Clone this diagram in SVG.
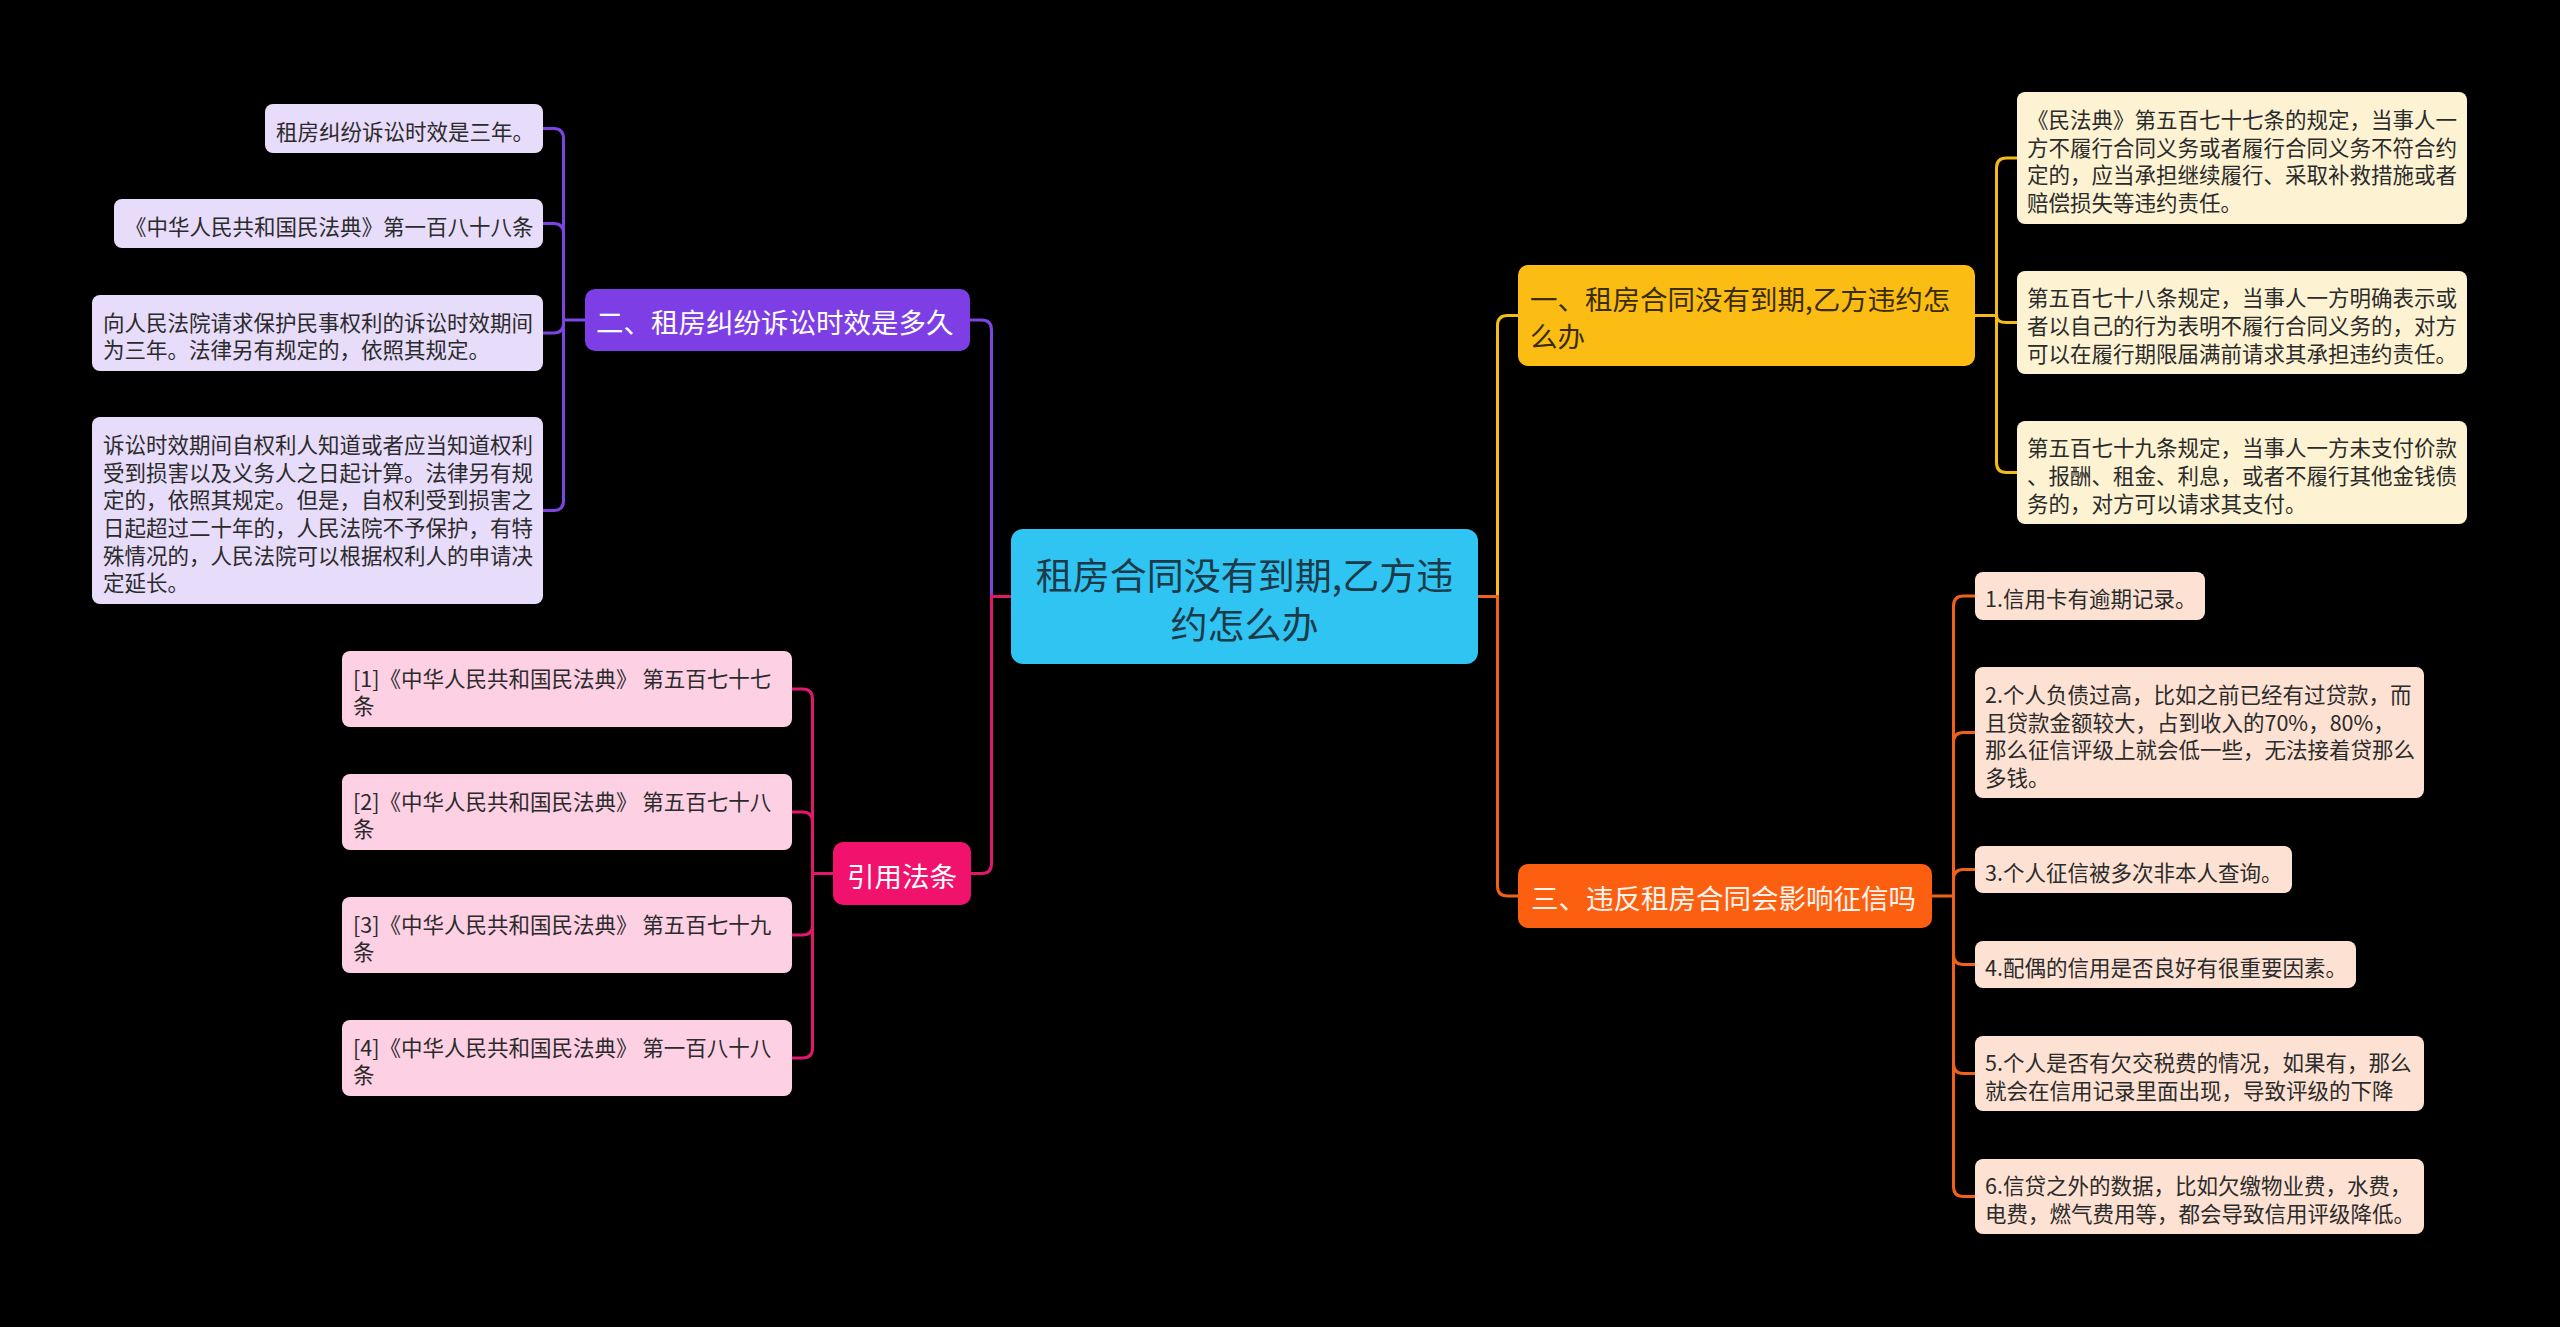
<svg xmlns="http://www.w3.org/2000/svg" width="2560" height="1327" viewBox="0 0 2560 1327">
<style>
text{font-family:"Noto Sans CJK SC","Noto Sans",sans-serif;dominant-baseline:central}
tspan{dominant-baseline:central}
.c{font-size:21.5px;fill:#2b2b2b}
.l1{font-size:27.5px}
.w{fill:#ffffff}
.d{fill:#3a2c05}
.ln{fill:none;stroke-width:3}
.pu{stroke:#7d44e2}
.pk{stroke:#e0186c}
.ye{stroke:#f5bb16}
.or{stroke:#f0621a}
</style>
<rect width="2560" height="1327" fill="#000"/>
<g id="connectors">
<path class="ln pu" d="M1011,596.5 H991.5 V330 Q991.5,320 981.5,320 H970"/>
<path class="ln pk" d="M1011,596.5 H991.5 V863.5 Q991.5,873.5 981.5,873.5 H971"/>
<path class="ln ye" d="M1477,596.5 H1497.5 V325.5 Q1497.5,315.5 1507.5,315.5 H1518"/>
<path class="ln or" d="M1477,596.5 H1497.5 V886 Q1497.5,896 1507.5,896 H1518"/>
<path class="ln pu" d="M585,320 H563.5 V138.5 Q563.5,128.5 553.5,128.5 H543"/>
<path class="ln pu" d="M563.5,320 V233.5 Q563.5,223.5 553.5,223.5 H543"/>
<path class="ln pu" d="M563.5,320 V323 Q563.5,333 553.5,333 H543"/>
<path class="ln pu" d="M563.5,320 V500.5 Q563.5,510.5 553.5,510.5 H543"/>
<path class="ln pk" d="M833,873.5 H812.5 V699 Q812.5,689 802.5,689 H792"/>
<path class="ln pk" d="M812.5,873.5 V822 Q812.5,812 802.5,812 H792"/>
<path class="ln pk" d="M812.5,873.5 V925 Q812.5,935 802.5,935 H792"/>
<path class="ln pk" d="M812.5,873.5 V1048 Q812.5,1058 802.5,1058 H792"/>
<path class="ln ye" d="M1975,315.5 H1996.5 V168 Q1996.5,158 2006.5,158 H2017"/>
<path class="ln ye" d="M1996.5,315.5 V315.5 Q1996.5,322.5 2006.5,322.5 H2017"/>
<path class="ln ye" d="M1996.5,315.5 V462.5 Q1996.5,472.5 2006.5,472.5 H2017"/>
<path class="ln or" d="M1932,896 H1953.5 V606 Q1953.5,596 1963.5,596 H1975"/>
<path class="ln or" d="M1953.5,896 V742.5 Q1953.5,732.5 1963.5,732.5 H1975"/>
<path class="ln or" d="M1953.5,896 V879.5 Q1953.5,869.5 1963.5,869.5 H1975"/>
<path class="ln or" d="M1953.5,896 V954.5 Q1953.5,964.5 1963.5,964.5 H1975"/>
<path class="ln or" d="M1953.5,896 V1063.5 Q1953.5,1073.5 1963.5,1073.5 H1975"/>
<path class="ln or" d="M1953.5,896 V1186.5 Q1953.5,1196.5 1963.5,1196.5 H1975"/>
</g>
<g id="root">
<rect x="1011" y="529" width="467" height="135" rx="12" fill="#2fc4f2"/>
<text font-size="37" fill="#1c3a48" text-anchor="middle"><tspan x="1244.5" y="574">租房合同没有到期,乙方违</tspan><tspan x="1244.5" y="623">约怎么办</tspan></text>
</g>
<g id="n2">
<rect x="585" y="289" width="385" height="62" rx="10" fill="#7e3ee6"/>
<text class="l1 w" x="596" y="321">二、租房纠纷诉讼时效是多久</text>
</g>
<g id="n2a">
<rect x="265" y="104" width="278" height="49" rx="8" fill="#e7dcfa"/>
<text class="c" x="276" y="130">租房纠纷诉讼时效是三年。</text>
</g>
<g id="n2b">
<rect x="114" y="199" width="429" height="49" rx="8" fill="#e7dcfa"/>
<text class="c" x="125" y="225">《中华人民共和国民法典》第一百八十八条</text>
</g>
<g id="n2c">
<rect x="92" y="295" width="451" height="76" rx="8" fill="#e7dcfa"/>
<text class="c"><tspan x="103" y="320.5">向人民法院请求保护民事权利的诉讼时效期间</tspan><tspan x="103" y="348.2">为三年。法律另有规定的，依照其规定。</tspan></text>
</g>
<g id="n2d">
<rect x="92" y="417" width="451" height="187" rx="8" fill="#e7dcfa"/>
<text class="c"><tspan x="103" y="442.8">诉讼时效期间自权利人知道或者应当知道权利</tspan><tspan x="103" y="470.5">受到损害以及义务人之日起计算。法律另有规</tspan><tspan x="103" y="498.2">定的，依照其规定。但是，自权利受到损害之</tspan><tspan x="103" y="525.9">日起超过二十年的，人民法院不予保护，有特</tspan><tspan x="103" y="553.6">殊情况的，人民法院可以根据权利人的申请决</tspan><tspan x="103" y="581.3">定延长。</tspan></text>
</g>
<g id="n4">
<rect x="833" y="842" width="138" height="63" rx="10" fill="#f0126c"/>
<text class="l1 w" x="847" y="874.5">引用法条</text>
</g>
<g id="n4a">
<rect x="342" y="651" width="450" height="76" rx="8" fill="#fed0e4"/>
<text class="c"><tspan x="353" y="676.6">[1]《中华人民共和国民法典》 第五百七十七</tspan><tspan x="353" y="704.3">条</tspan></text>
</g>
<g id="n4b">
<rect x="342" y="774" width="450" height="76" rx="8" fill="#fed0e4"/>
<text class="c"><tspan x="353" y="799.6">[2]《中华人民共和国民法典》 第五百七十八</tspan><tspan x="353" y="827.3">条</tspan></text>
</g>
<g id="n4c">
<rect x="342" y="897" width="450" height="76" rx="8" fill="#fed0e4"/>
<text class="c"><tspan x="353" y="922.6">[3]《中华人民共和国民法典》 第五百七十九</tspan><tspan x="353" y="950.3">条</tspan></text>
</g>
<g id="n4d">
<rect x="342" y="1020" width="450" height="76" rx="8" fill="#fed0e4"/>
<text class="c"><tspan x="353" y="1045.6">[4]《中华人民共和国民法典》 第一百八十八</tspan><tspan x="353" y="1073.3">条</tspan></text>
</g>
<g id="n1">
<rect x="1518" y="265" width="457" height="101" rx="10" fill="#fbbd14"/>
<text class="l1 d"><tspan x="1530" y="298">一、租房合同没有到期,乙方违约怎</tspan><tspan x="1530" y="335">么办</tspan></text>
</g>
<g id="n1a">
<rect x="2017" y="92" width="450" height="132" rx="8" fill="#fdf3d3"/>
<text class="c"><tspan x="2027" y="118">《民法典》第五百七十七条的规定，当事人一</tspan><tspan x="2027" y="145.7">方不履行合同义务或者履行合同义务不符合约</tspan><tspan x="2027" y="173.4">定的，应当承担继续履行、采取补救措施或者</tspan><tspan x="2027" y="201.1">赔偿损失等违约责任。</tspan></text>
</g>
<g id="n1b">
<rect x="2017" y="271" width="450" height="103" rx="8" fill="#fdf3d3"/>
<text class="c"><tspan x="2027" y="296.3">第五百七十八条规定，当事人一方明确表示或</tspan><tspan x="2027" y="324">者以自己的行为表明不履行合同义务的，对方</tspan><tspan x="2027" y="351.7">可以在履行期限届满前请求其承担违约责任。</tspan></text>
</g>
<g id="n1c">
<rect x="2017" y="421" width="450" height="103" rx="8" fill="#fdf3d3"/>
<text class="c"><tspan x="2027" y="446.3">第五百七十九条规定，当事人一方未支付价款</tspan><tspan x="2027" y="474">、报酬、租金、利息，或者不履行其他金钱债</tspan><tspan x="2027" y="501.7">务的，对方可以请求其支付。</tspan></text>
</g>
<g id="n3">
<rect x="1518" y="864" width="414" height="64" rx="10" fill="#fd5f10"/>
<text class="l1" x="1531" y="897" fill="#fff4ec">三、违反租房合同会影响征信吗</text>
</g>
<g id="n3a">
<rect x="1975" y="572" width="230" height="48" rx="8" fill="#fde2d3"/>
<text class="c" x="1985" y="597.5">1.信用卡有逾期记录。</text>
</g>
<g id="n3b">
<rect x="1975" y="667" width="449" height="131" rx="8" fill="#fde2d3"/>
<text class="c"><tspan x="1985" y="693">2.个人负债过高，比如之前已经有过贷款，而</tspan><tspan x="1985" y="720.7">且贷款金额较大，占到收入的70%，80%，</tspan><tspan x="1985" y="748.4">那么征信评级上就会低一些，无法接着贷那么</tspan><tspan x="1985" y="776.1">多钱。</tspan></text>
</g>
<g id="n3c">
<rect x="1975" y="846" width="317" height="47" rx="8" fill="#fde2d3"/>
<text class="c" x="1985" y="871">3.个人征信被多次非本人查询。</text>
</g>
<g id="n3d">
<rect x="1975" y="941" width="381" height="47" rx="8" fill="#fde2d3"/>
<text class="c" x="1985" y="966">4.配偶的信用是否良好有很重要因素。</text>
</g>
<g id="n3e">
<rect x="1975" y="1036" width="449" height="75" rx="8" fill="#fde2d3"/>
<text class="c"><tspan x="1985" y="1061.2">5.个人是否有欠交税费的情况，如果有，那么</tspan><tspan x="1985" y="1088.9">就会在信用记录里面出现，导致评级的下降</tspan></text>
</g>
<g id="n3f">
<rect x="1975" y="1159" width="449" height="75" rx="8" fill="#fde2d3"/>
<text class="c"><tspan x="1985" y="1184.2">6.信贷之外的数据，比如欠缴物业费，水费，</tspan><tspan x="1985" y="1211.9">电费，燃气费用等，都会导致信用评级降低。</tspan></text>
</g>
</svg>
